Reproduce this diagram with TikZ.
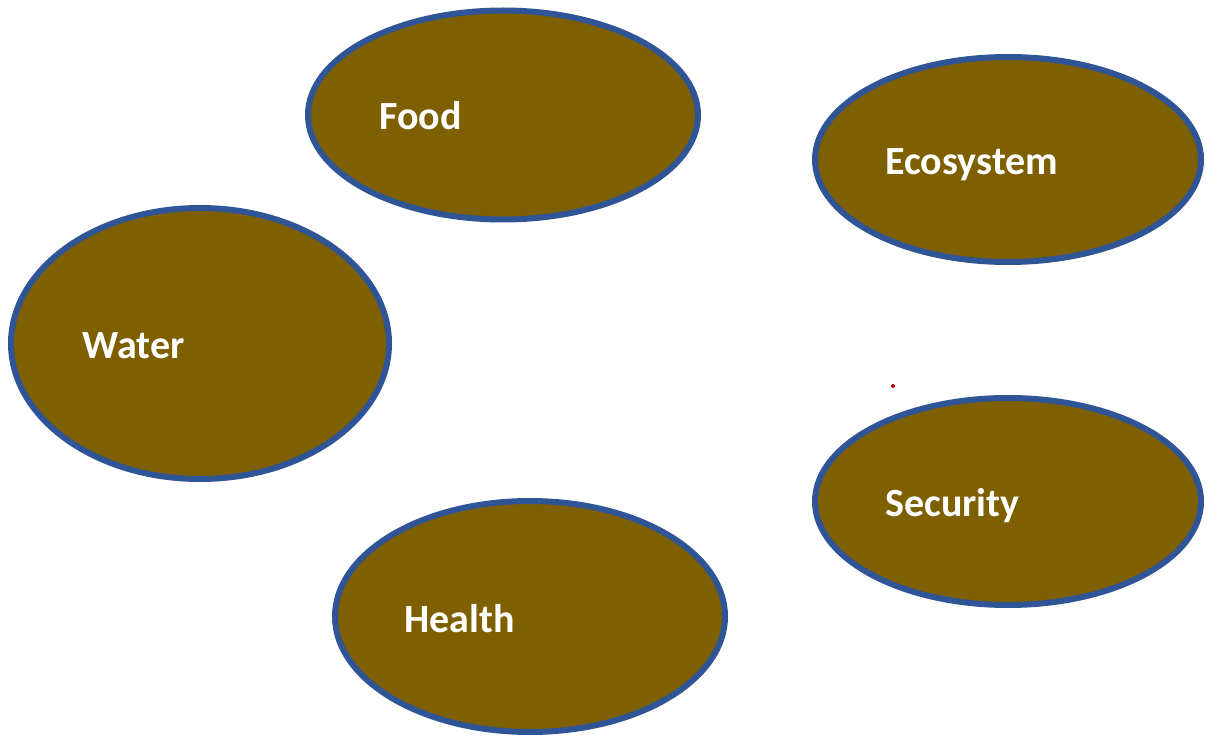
\documentclass[tikz,border=0pt]{standalone}
\usepackage{fontspec}
\setmainfont{Carlito}
\usepackage{tikz}
\usetikzlibrary{shapes.geometric}
\definecolor{soil}{HTML}{7F6000}
\definecolor{rim}{HTML}{2F5597}

\begin{document}
\begin{tikzpicture}[x=0.5pt, y=-0.5pt,
    blob/.style={ellipse, draw=rim, fill=soil, line width=3pt, inner sep=0pt},
    word/.style={anchor=base west, inner sep=0pt, text=white,
        font=\bfseries\fontsize{20}{24}\selectfont}]
    \useasboundingbox (0,0) rectangle (1206,738);

    \node[blob, minimum width=195pt, minimum height=104.5pt] (food) at (503,115) {};
    \node[blob, minimum width=193pt, minimum height=102.5pt] (eco) at (1008,159.5) {};
    \node[blob, minimum width=189pt, minimum height=135.5pt] (water) at (200,343.5) {};
    \node[blob, minimum width=193pt, minimum height=103.5pt] (sec) at (1008,501.5) {};
    \node[blob, minimum width=195pt, minimum height=115.5pt] (health) at (530,616.5) {};

    \node[word] (foodtxt) at (379,130) {Food};
    \node[word] (ecotxt) at (885,175) {Ecosystem};
    \node[word] (watertxt) at (82,358) {Water};
    \node[word] (sectxt) at (885,516) {Security};
    \node[word] (healthtxt) at (404,632) {Health};

    % stray mark
    \fill[red!75!black] (893,386) circle (2);
\end{tikzpicture}
\end{document}
